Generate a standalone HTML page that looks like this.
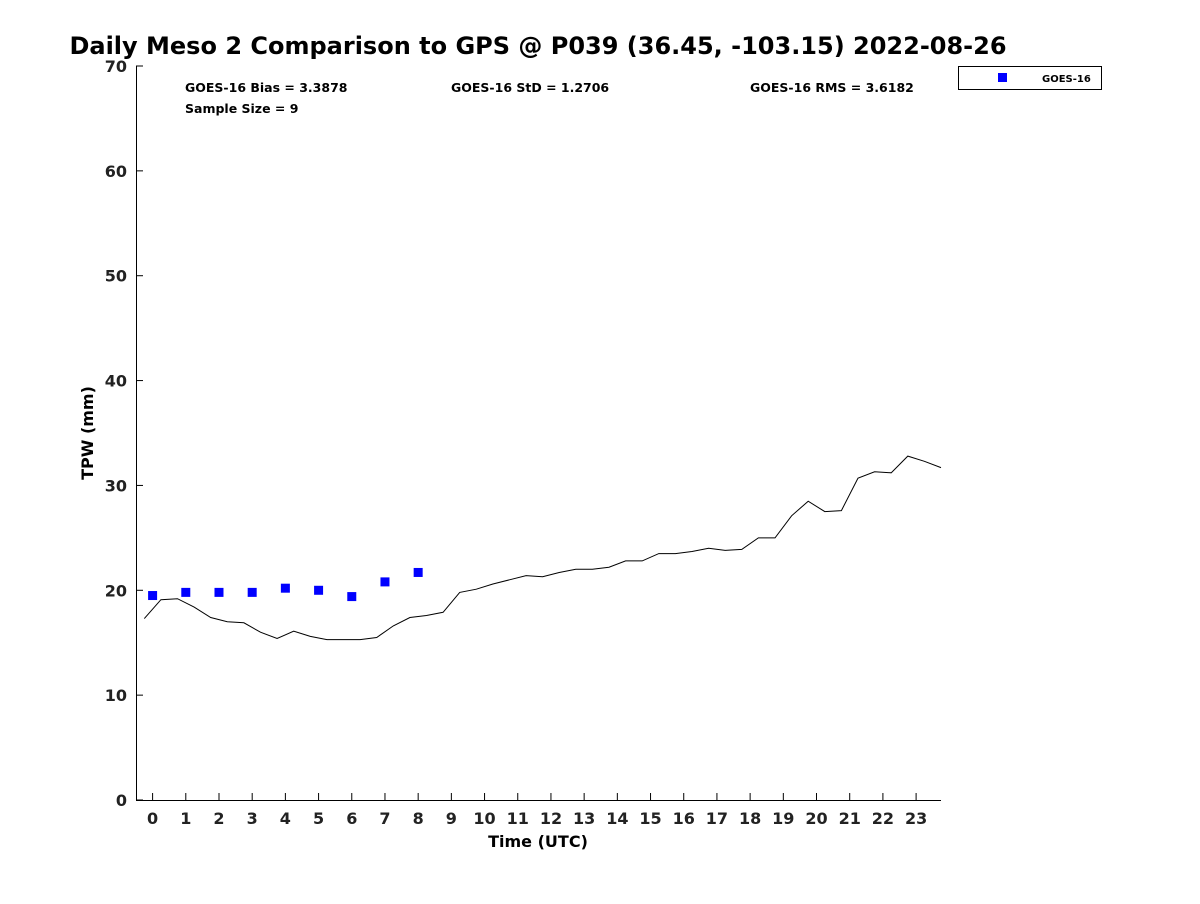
<!DOCTYPE html>
<html><head><meta charset="utf-8"><style>
body{margin:0;background:#fff;font-family:"DejaVu Sans","Liberation Sans",sans-serif}
svg text{font-family:"DejaVu Sans","Liberation Sans",sans-serif;font-weight:bold}
</style></head><body>
<svg id="chart" width="1200" height="900" xmlns="http://www.w3.org/2000/svg">
<text x="538" y="54" text-anchor="middle" font-size="24" fill="#000">Daily Meso 2 Comparison to GPS @ P039 (36.45, -103.15) 2022-08-26</text>
<g id="axes"></g>
<g id="marks"></g>
<text x="185" y="92" font-size="12.5">GOES-16 Bias = 3.3878</text>
<text x="451" y="92" font-size="12.5">GOES-16 StD = 1.2706</text>
<text x="750" y="92" font-size="12.5">GOES-16 RMS = 3.6182</text>
<text x="185" y="113" font-size="12.5">Sample Size = 9</text>
<g>
<rect x="958.5" y="66.5" width="143" height="23" fill="#fff" stroke="#000" stroke-width="1"/>
<rect x="998" y="73" width="9" height="9" fill="#0000ff"/>
<text x="1042" y="82" font-size="10">GOES-16</text>
</g>
<text x="538" y="847" text-anchor="middle" font-size="16">Time (UTC)</text>
<text transform="translate(93,433) rotate(-90)" text-anchor="middle" font-size="16">TPW (mm)</text>
</svg>
<script>
const gpsTimes0 = -0.25;
const gpsValues = [17.3,19.1,19.2,18.4,17.4,17.0,16.9,16.0,15.4,16.1,15.6,15.3,15.3,15.3,15.5,16.6,17.4,17.6,17.9,19.8,20.1,20.6,21.0,21.4,21.3,21.7,22.0,22.0,22.2,22.8,22.8,23.5,23.5,23.7,24.0,23.8,23.9,25.0,25.0,27.1,28.5,27.5,27.6,30.7,31.3,31.2,32.8,32.3,31.7];
const goesHours = [0,1,2,3,4,5,6,7,8];
const goesValues = [19.5,19.8,19.8,19.8,20.2,20.0,19.4,20.8,21.7];
const xTicks = [0,1,2,3,4,5,6,7,8,9,10,11,12,13,14,15,16,17,18,19,20,21,22,23];
const yTicks = [0,10,20,30,40,50,60,70];

const NS="http://www.w3.org/2000/svg";
const L=136,R=941,T=66,B=800,xmin=-0.5,xmax=23.75,ymax=70;
const X=v=>L+(v-xmin)/(xmax-xmin)*(R-L);
const Y=v=>B-v/ymax*(B-T);
function mk(tag,attrs,parent){const e=document.createElementNS(NS,tag);for(const k in attrs)e.setAttribute(k,attrs[k]);parent.appendChild(e);return e;}
const ax=document.getElementById('axes'),mg=document.getElementById('marks');
let a=mk('line',{x1:L,y1:B+0.5,x2:R,y2:B+0.5,stroke:'#000'},ax);


a=mk('line',{x1:L+0.5,y1:T,x2:L+0.5,y2:B,stroke:'#000'},ax);


xTicks.forEach(t=>{
 const x=X(t);
 mk('line',{x1:x,y1:B,x2:x,y2:B-7,stroke:'#000'},ax);
 const tx=mk('text',{x:x,y:B+24,'text-anchor':'middle','font-size':16,fill:'#222'},ax);
 tx.textContent=t;
 
 
});
yTicks.forEach(t=>{
 const y=Y(t);
 mk('line',{x1:L,y1:y,x2:L+7,y2:y,stroke:'#000'},ax);
 const tx=mk('text',{x:L-9,y:y+6,'text-anchor':'end','font-size':16,fill:'#222'},ax);
 tx.textContent=t;
 
 
});
const pts=gpsValues.map((v,i)=>X(gpsTimes0+0.5*i).toFixed(1)+','+Y(v).toFixed(1)).join(' ');
const pl=mk('polyline',{points:pts,fill:'none',stroke:'#000','stroke-width':1},mg);


goesHours.forEach((h,i)=>{
 const r=mk('rect',{x:X(h)-4.5,y:Y(goesValues[i])-4.5,width:9,height:9,fill:'#0000ff'},mg);
 
 
});
</script>
</body></html>
